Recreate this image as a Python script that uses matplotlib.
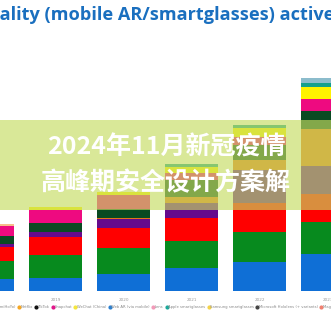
import matplotlib
matplotlib.use("Agg")
import matplotlib.pyplot as plt
from matplotlib.patches import Rectangle
from matplotlib.lines import Line2D
import numpy as np

# years on the x axis (first bar is cut off at the left edge)
years = ["2018", "2019", "2020", "2021", "2022", "2023"]

# stacked series, bottom to top (active users)
web_ar = [11.7, 13, 17.5, 22.7, 29.3, 36.7]
facebook = [18.3, 23, 25.5, 27.3, 29.7, 32]
instagram = [14.3, 18, 20.5, 22.7, 29, 28]
pokemon = [2.7, 5, 8.7, 15, 33, 28]
netflix = [0, 0, 1, 6, 10, 37]
tiktok = [8, 9.3, 9, 17, 15, 18]
snapchat = [10, 12.7, 14, 7, 8, 12]
lens = [2.5, 0, 0, 0, 0, 0]
wechat = [0, 3, 3, 6, 9, 12]
apple = [0, 0, 0, 3, 3, 4.5]
samsung = [0, 0, 0, 0, 0, 5]

series = [web_ar, facebook, instagram, pokemon, netflix, tiktok,
          snapchat, lens, wechat, apple, samsung]
colors = ["#0f6fd6", "#078a1e", "#ff0000", "#660a8c", "#e57519", "#0a4a22",
          "#ee0a80", "#f7bd8a", "#fff200", "#14a08c", "#8cbccc"]

# legend row under the chart (only partly visible in the crop)
legend_labels = ["Games (miHoYo)", "Netflix", "TikTok", "Snapchat", "WeChat (China)",
                 "Web AR (via mobile)", "Lens", "Apple smartglasses",
                 "Samsung smartglasses", "Microsoft Hololens (+ variants)", "Magic Leap"]
legend_colors = ["#7fb0e0", "#f5a623", "#111111", "#e0168a", "#f5e63c",
                 "#2a7fd0", "#f29ab8", "#1aa99a", "#f3d24a", "#444444", "#f08070"]

fig = plt.figure(figsize=(3.31, 3.31), dpi=100)
ax = fig.add_axes([0, 0, 1, 1])
ax.axis("off")

x = np.arange(len(years))
bottom = np.zeros(len(years))
for vals, c in zip(series, colors):
    ax.bar(x, vals, width=0.78, bottom=bottom, color=c, linewidth=0)
    bottom += np.array(vals)

for xi, yr in zip(x, years):
    ax.text(xi, -9, yr, ha="center", va="center", fontsize=3, color="#9a9a9a")

ax.set_xlim(0.184, 5.051)
ax.set_ylim(-40, 291)

handles = [Line2D([], [], marker="o", linestyle="", markersize=2.0, color=c)
           for c in legend_colors]
fig.legend(handles, legend_labels, ncol=len(legend_labels), loc="center left",
           bbox_to_anchor=(-0.06, 1 - 307 / 331), fontsize=2.7, frameon=False,
           handlelength=0.5, handletextpad=0.2, columnspacing=0.6,
           borderaxespad=0, labelcolor="#888888")

# title, cut at both sides like the reference
title = "Augmented Reality (mobile AR/smartglasses) active users"
tfont = dict(fontsize=13.1, fontweight="bold", family=["Open Sans", "DejaVu Sans"])
t = fig.text(0, 1 - 15 / 331, title, ha="left", va="center", color="#1a6fbf", **tfont)
fig.canvas.draw()
r = fig.canvas.get_renderer()
probe = fig.text(0, 0, "Augmented Re", **tfont)
w = probe.get_window_extent(r).width
probe.remove()
t.set_x(-w / fig.bbox.width)

# translucent banner with the overlay text
fig.patches.append(Rectangle((0, (331 - 210) / 331), 1, 90 / 331,
                             transform=fig.transFigure, facecolor="#c5dc61",
                             alpha=0.65, edgecolor="none", zorder=5))
cjk = ["Noto Sans CJK SC", "DejaVu Sans"]
fig.text(166 / 331, 1 - 147 / 331, "2024年11月新冠疫情", ha="center", va="center",
         fontsize=18, fontweight="bold", color="white", family=cjk, zorder=6)
fig.text(166 / 331, 1 - 183 / 331, "高峰期安全设计方案解", ha="center", va="center",
         fontsize=18, fontweight="bold", color="white", family=cjk, zorder=6)

fig.savefig("out.png", dpi=100)
